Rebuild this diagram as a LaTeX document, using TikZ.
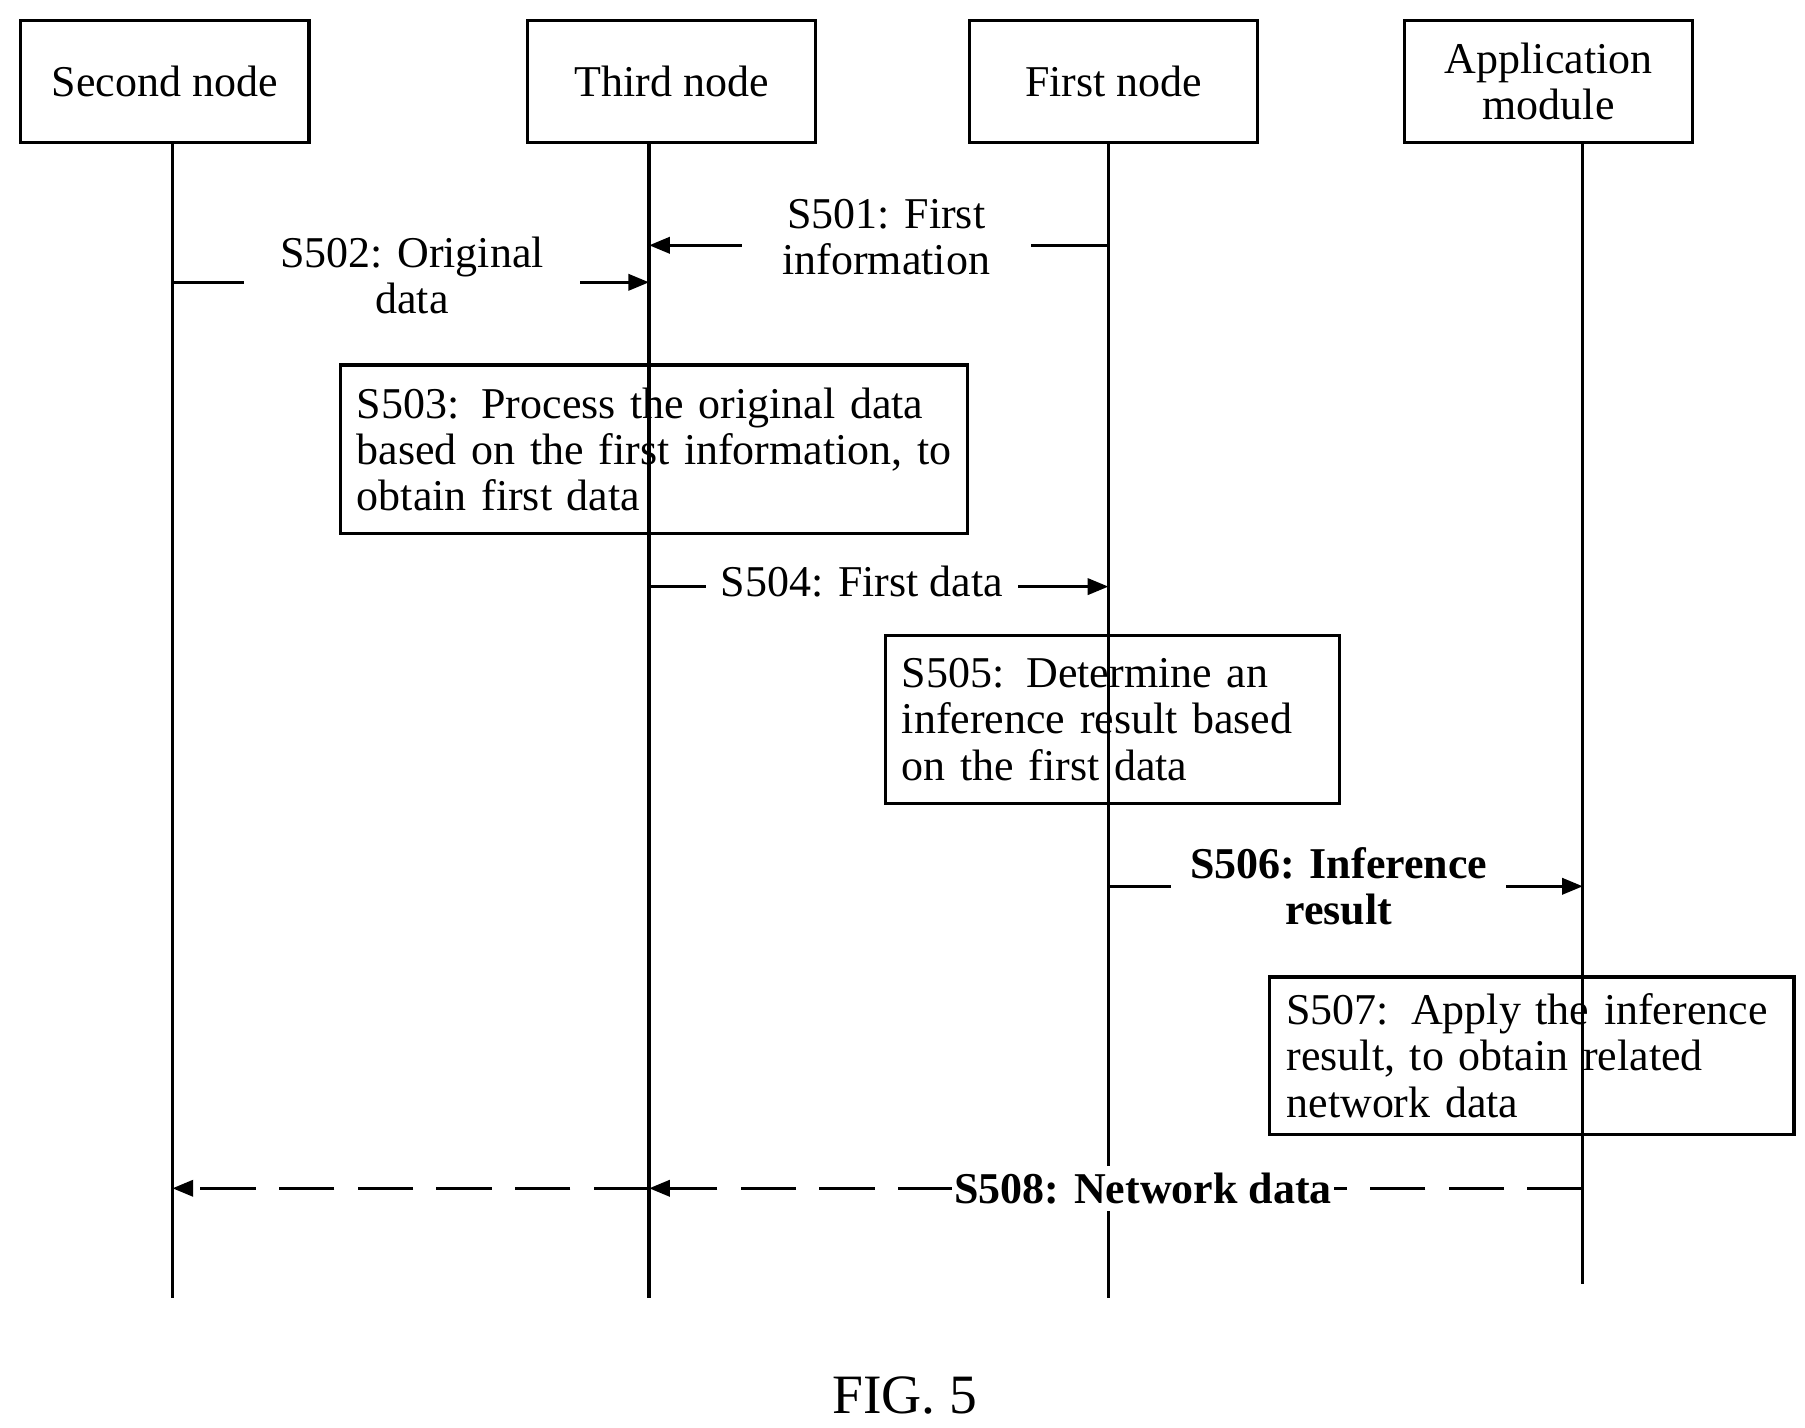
\documentclass[tikz,border=0pt]{standalone}
\usepackage{fontspec}
\setmainfont{Liberation Serif}
\usetikzlibrary{arrows.meta}
\begin{document}
\begin{tikzpicture}[x=0.5pt,y=-0.5pt,line width=1.4pt,
  every node/.style={font=\fontsize{19}{20}\selectfont},
  head/.style={draw,minimum width=124.5pt,minimum height=52.5pt,inner sep=0pt,align=center},
  box/.style={draw,align=left,inner sep=0pt,anchor=north west},
  lbl/.style={fill=white,align=center,inner sep=3pt},
  msg/.style={-{Triangle[length=9pt,width=7pt]}},
  dsh/.style={msg,dash pattern=on 24pt off 10pt}]
\useasboundingbox (0,0) rectangle (1560,1234);
\node[head] (h2) at (142.5,70.5) {Second node};
\node[head] (h3) at (580.5,70.5) {Third node};
\node[head] (h1) at (962.5,70.5) {First node};
\node[head] (ha) at (1338.5,70.5) {Application\\module};
\coordinate (e2) at (149,1122);
\coordinate (e3) at (561,1122);
\coordinate (e1) at (958,1122);
\coordinate (ea) at (1368,1110);
\draw (h2.south -| e2) -- (e2);
\draw (h3.south -| e3) -- (e3);
\draw (h1.south -| e1) -- (e1);
\draw (ha.south -| ea) -- (ea);
% S501
\coordinate (a1) at (958,212); \coordinate (b1) at (561,212);
\draw[msg] (a1) -- (b1);
\node[lbl,minimum width=125pt] (l1) at (766,205) {S501: First\\information};
% S502
\coordinate (a2) at (149,244); \coordinate (b2) at (561,244);
\draw[msg] (a2) -- (b2);
\node[lbl,minimum width=145pt] (l2) at (356,238) {S502: Original\\data};
% S503
\node[box,minimum width=271pt,minimum height=73pt,text width=257pt,inner xsep=7pt] (s3) at (293,314) {S503: Process the original data based on the first information, to obtain first data};
% S504
\coordinate (a4) at (561,507); \coordinate (b4) at (958,507);
\draw[msg] (a4) -- (b4);
\node[lbl,minimum width=135pt] (l4) at (745,503) {S504: First data};
% S505
\node[box,minimum width=196pt,minimum height=72.5pt,text width=182pt,inner xsep=7pt] (s5) at (764,548) {S505: Determine an inference result based on the first data};
% S506
\coordinate (a6) at (958,766); \coordinate (b6) at (1368,766);
\draw[msg] (a6) -- (b6);
\node[lbl,font=\fontsize{19}{20}\selectfont\bfseries,minimum width=145pt] (l6) at (1157,766) {S506: Inference\\result};
% S507
\node[box,minimum width=226.5pt,minimum height=68pt,text width=212pt,inner xsep=7pt] (s7) at (1096,843) {S507: Apply the inference result, to obtain related network data};
% S508
\coordinate (a8) at (1368,1027); \coordinate (b8) at (561,1027); \coordinate (c8) at (149,1027);
\draw[dsh] (a8) -- (b8);
\draw[dsh] (b8) -- (c8);
\node[lbl,font=\fontsize{19}{20}\selectfont\bfseries,inner xsep=1pt] (l8) at (988,1027) {S508: Network data};
\node[font=\fontsize{24}{26}\selectfont] (fig) at (782,1206) {FIG. 5};
\end{tikzpicture}
\end{document}
